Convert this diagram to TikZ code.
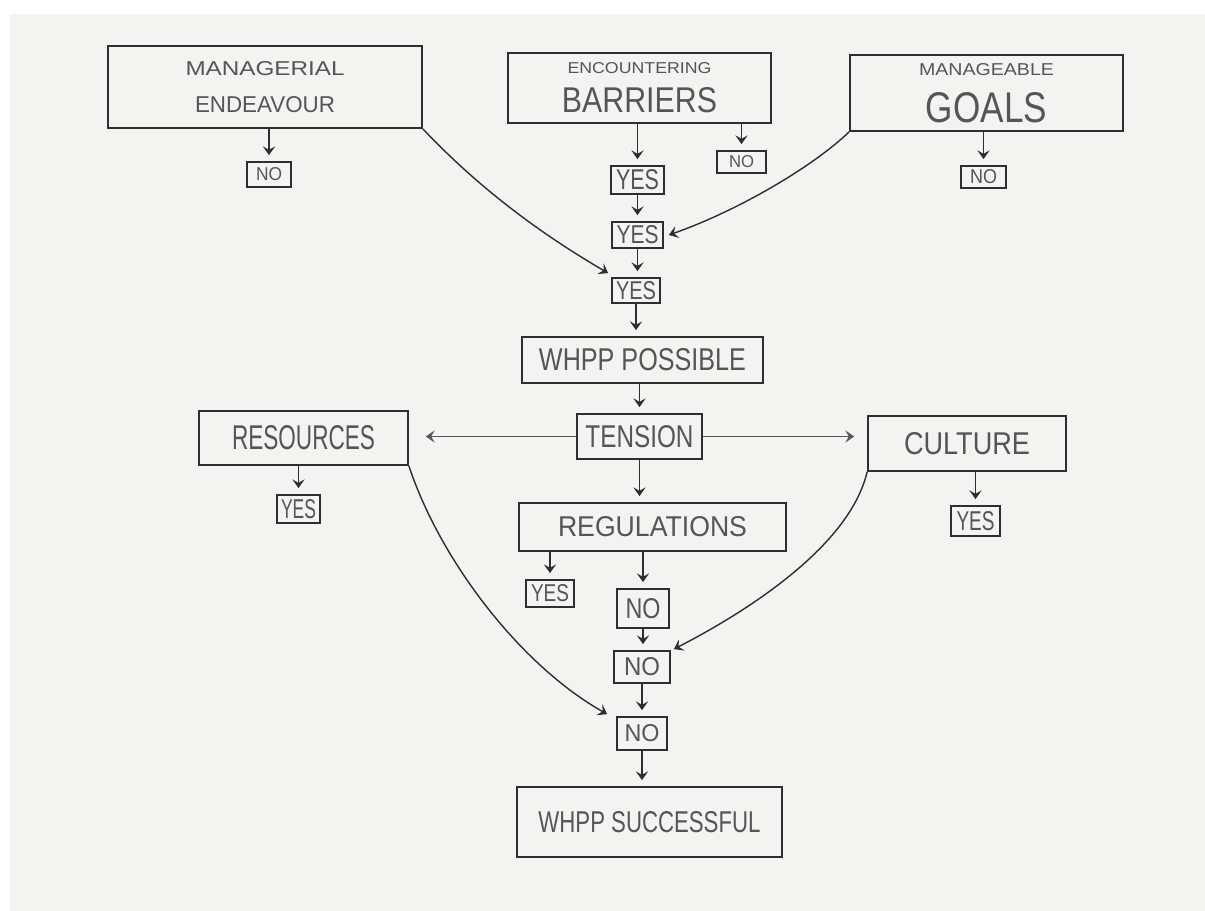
\documentclass[tikz,border=0pt]{standalone}
\usepackage{fontspec}
\setmainfont{Liberation Sans}
\usepackage{graphicx}
\usetikzlibrary{arrows.meta}
\newlength\pxu \setlength\pxu{0.02cm}
\definecolor{panel}{HTML}{F4F3EF}
\definecolor{ink}{HTML}{2E2E2E}
\definecolor{txt}{HTML}{555555}
\newcommand\fitt[3]{\resizebox{#1\pxu}{#2\pxu}{#3}}
\newcommand\twolines[7]{\vbox{\offinterlineskip\halign{\hfil##\hfil\cr\fitt{#1}{#2}{#3}\cr\noalign{\vskip#7\pxu}\fitt{#4}{#5}{#6}\cr}}}
\newcommand\bx[6]{\node[box, minimum width={(#4-#2)*\pxu}, minimum height={(#5-#3)*\pxu}] (#1) at ({(#2+#4)/2},{(#3+#5)/2}) {#6};}
\begin{document}
\begin{tikzpicture}[x=0.02cm,y=-0.02cm,
  box/.style={draw=ink, line width=1pt, fill=panel, inner sep=0pt, text=txt, rectangle},
  arr/.style={draw=ink, line width=0.8pt, -{Stealth[length=5pt,width=7pt,inset=2pt]}, shorten >=0.12cm},
  carr/.style={draw=ink, line width=0.8pt, -{Stealth[length=5pt,width=7pt,inset=2pt]}},
  harr/.style={draw=ink!80, line width=0.6pt, -{Stealth[length=5pt,width=7pt,inset=2pt]}}]
\useasboundingbox (0,0) rectangle (1205,911);
\fill[white] (0,0) rectangle (1205,911);
\fill[panel] (10,14) rectangle (1205,911);
% boxes
\bx{me}{108}{46}{422}{128}{\twolines{159}{14}{MANAGERIAL}{140}{16}{ENDEAVOUR}{21}}
\bx{nme}{247}{162}{291}{187}{\fitt{26}{13}{NO}}
\bx{eb}{508}{53}{771}{123}{\twolines{144}{11}{ENCOUNTERING}{155}{25}{BARRIERS}{14}}
\bx{neb}{717}{151}{766}{173}{\fitt{25}{12}{NO}}
\bx{y1}{611}{166}{664}{194}{\fitt{43}{20}{YES}}
\bx{y2}{612}{222}{663}{248}{\fitt{42}{18}{YES}}
\bx{y3}{612}{278}{660}{303}{\fitt{40}{18}{YES}}
\bx{mg}{850}{55}{1123}{131}{\twolines{135}{12}{MANAGEABLE}{121}{30}{GOALS}{17}}
\bx{nmg}{961}{166}{1006}{188}{\fitt{27}{14}{NO}}
\bx{wp}{522}{337}{763}{383}{\fitt{207}{22}{WHPP POSSIBLE}}
\bx{ten}{577}{414}{702}{459}{\fitt{108}{22}{TENSION}}
\bx{res}{199}{411}{408}{465}{\fitt{143}{24}{RESOURCES}}
\bx{cul}{868}{416}{1066}{471}{\fitt{126}{22}{CULTURE}}
\bx{yres}{277}{495}{320}{523}{\fitt{35}{19}{YES}}
\bx{ycul}{951}{506}{1000}{536}{\fitt{38}{19}{YES}}
\bx{reg}{519}{503}{786}{551}{\fitt{189}{20}{REGULATIONS}}
\bx{yreg}{526}{580}{574}{607}{\fitt{38}{17}{YES}}
\bx{n1}{617}{589}{669}{628}{\fitt{35}{20}{NO}}
\bx{n2}{614}{651}{670}{683}{\fitt{36}{18}{NO}}
\bx{n3}{617}{717}{667}{750}{\fitt{35}{17}{NO}}
\bx{ws}{517}{787}{782}{857}{\fitt{222}{21}{WHPP SUCCESSFUL}}
% vertical arrows
\draw[arr] (me.south -| nme.north) -- (nme.north);
\draw[arr] (eb.south -| y1.north) -- (y1.north);
\draw[arr] (eb.south -| neb.north) -- (neb.north);
\draw[arr] (y1.south) -- (y2.north -| y1.south);
\draw[arr] (y2.south) -- (y3.north -| y2.south);
\draw[arr] (mg.south -| nmg.north) -- (nmg.north);
\draw[arr] (y3.south) -- (wp.north -| y3.south);
\draw[arr] (ten.north |- wp.south) -- (ten.north);
\draw[arr] (ten.south) -- (reg.north -| ten.south);
\draw[arr] (res.south -| yres.north) -- (yres.north);
\draw[arr] (cul.south -| ycul.north) -- (ycul.north);
\draw[arr] (reg.south -| yreg.north) -- (yreg.north);
\draw[arr] (reg.south -| n1.north) -- (n1.north);
\draw[arr] (n1.south) -- (n2.north -| n1.south);
\draw[arr] (n2.south) -- (n3.north -| n2.south);
\draw[arr] (n3.south) -- (ws.north -| n3.south);
% horizontal arrows
\draw[harr, shorten >=0.34cm] (ten.west) -- (ten.west -| res.east);
\draw[harr, shorten >=0.26cm] (ten.east) -- (ten.east -| cul.west);
% curved arrows
\draw[carr] (me.south east) .. controls (490,200) and (560,245) .. ([shift={(-3,-4)}]y3.north west);
\draw[carr] (mg.south west) .. controls (815,165) and (740,210) .. ([shift={(5,0)}]y2.east);
\draw[carr] (res.south east) .. controls (440,560) and (520,665) .. ([shift={(-9,-2)}]n3.north west);
\draw[carr] (cul.south west) .. controls (850,545) and (750,610) .. ([shift={(3,-1)}]n2.north east);
\end{tikzpicture}
\end{document}
